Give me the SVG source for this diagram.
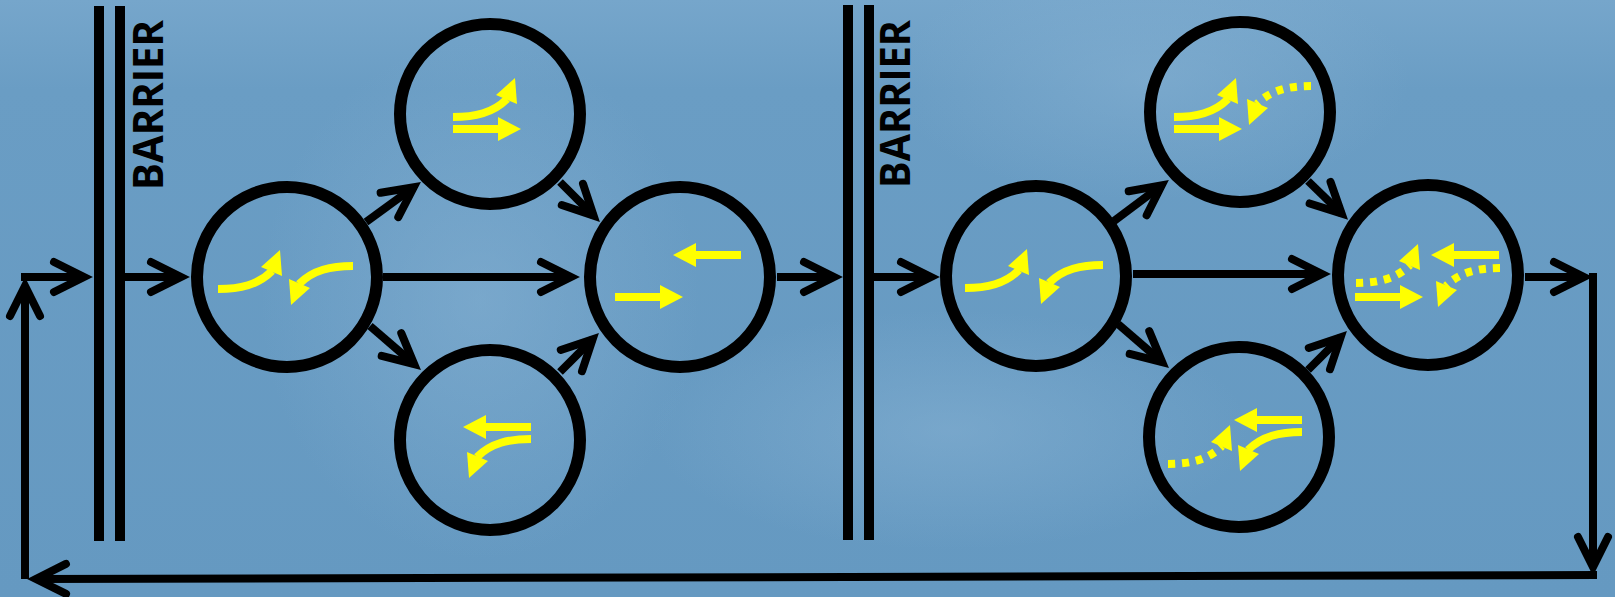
<svg xmlns="http://www.w3.org/2000/svg" width="1615" height="597" viewBox="0 0 1615 597">
<defs>
<linearGradient id="bg" x1="0" y1="0" x2="0" y2="1">
<stop offset="0" stop-color="#76A6CB"/>
<stop offset="0.15" stop-color="#6A9DC4"/>
<stop offset="1" stop-color="#6599C1"/>
</linearGradient>
<radialGradient id="glow" cx="0.5" cy="0.5" r="0.5">
<stop offset="0" stop-color="#8DB6D6" stop-opacity="0.45"/>
<stop offset="1" stop-color="#8DB6D6" stop-opacity="0"/>
</radialGradient>
<marker id="ah" markerUnits="userSpaceOnUse" markerWidth="50" markerHeight="50" viewBox="-40 -25 50 50" refX="0" refY="0" orient="auto" overflow="visible">
<path d="M-30,-15 L0,0 L-30,15" fill="none" stroke="#000" stroke-width="8" stroke-linecap="round" stroke-linejoin="miter" stroke-miterlimit="10"/>
</marker>
<g id="sa">
<rect x="0" y="-4" width="46" height="8"/>
<polygon points="45,-12 68,0 45,12"/>
</g>
<g id="ca">
<path d="M0,0 C22,0 40,-4 54,-18" fill="none" stroke="#FFFF00" stroke-width="8"/>
<polygon points="62,-39 43,-22 64,-13"/>
</g>
<g id="cd">
<path d="M0,0 C22,0 40,-4 54,-18" fill="none" stroke="#FFFF00" stroke-width="8" stroke-dasharray="7 7"/>
<polygon points="62,-39 43,-22 64,-13"/>
</g>
</defs>
<style>
.node circle { fill: none; stroke: #000; stroke-width: 12; }
.conn path { fill: none; stroke: #000; stroke-width: 8; }
.arr { marker-end: url(#ah); }
.bar { fill: #000; }
.lbl { font-family: "Open Sans", "Liberation Sans", sans-serif; font-weight: bold; font-size: 42px; fill: #000; }
.y { fill: #FFFF00; }
</style>
<rect width="1615" height="597" fill="url(#bg)"/>
<ellipse cx="1150" cy="80" rx="260" ry="120" fill="url(#glow)"/>
<ellipse cx="480" cy="300" rx="220" ry="260" fill="url(#glow)"/>
<ellipse cx="950" cy="430" rx="300" ry="120" fill="url(#glow)"/>

<g id="barrier1">
<rect class="bar" x="94" y="6" width="10" height="535"/>
<rect class="bar" x="115" y="6" width="10" height="535"/>
<text class="lbl" transform="translate(163,190) rotate(-90)" textLength="170" lengthAdjust="spacingAndGlyphs">BARRIER</text>
</g>
<g id="barrier2">
<rect class="bar" x="843" y="5" width="10" height="535"/>
<rect class="bar" x="864" y="5" width="10" height="535"/>
<text class="lbl" transform="translate(910,188) rotate(-90)" textLength="168" lengthAdjust="spacingAndGlyphs">BARRIER</text>
</g>

<g id="connectors" class="conn">
<path class="arr" d="M125,277 H181"/>
<path class="arr" d="M383,277 H571"/>
<path class="arr" d="M366,222 L413.7,187.3"/>
<path class="arr" d="M370,326 L414.2,364.1"/>
<path class="arr" d="M560,182 L593.6,215.6"/>
<path class="arr" d="M560,372 L592.6,339.4"/>
<path class="arr" d="M777,277 H834"/>
<path class="arr" d="M874,277 H931"/>
<path class="arr" d="M1133,274 H1322"/>
<path class="arr" d="M1114,221 L1161.7,185.3"/>
<path class="arr" d="M1118,324 L1162.2,362.1"/>
<path class="arr" d="M1308,181 L1341.6,213.6"/>
<path class="arr" d="M1308,370 L1340.6,337.4"/>
<path class="arr" d="M1525,277 H1584"/>
<path class="arr" d="M1593,273 V567"/>
<path class="arr" d="M1597,575 L36,579"/>
<path class="arr" d="M25,579 V286"/>
<path class="arr" d="M21,277 H84"/>
</g>

<g id="nodeA" class="node">
<circle cx="287" cy="277" r="90"/>
<use href="#ca" class="y" transform="translate(218,289)"/>
<use href="#ca" class="y" transform="translate(353,266) rotate(180)"/>
</g>
<g id="nodeB" class="node">
<circle cx="490" cy="114" r="90"/>
<use href="#ca" class="y" transform="translate(453,117)"/>
<use href="#sa" class="y" transform="translate(453,129)"/>
</g>
<g id="nodeC" class="node">
<circle cx="490" cy="440" r="90"/>
<use href="#sa" class="y" transform="translate(531,427) rotate(180)"/>
<use href="#ca" class="y" transform="translate(531,439) rotate(180)"/>
</g>
<g id="nodeD" class="node">
<circle cx="680" cy="277" r="90"/>
<use href="#sa" class="y" transform="translate(741,255) rotate(180)"/>
<use href="#sa" class="y" transform="translate(615,297)"/>
</g>
<g id="nodeE" class="node">
<circle cx="1036" cy="276" r="90"/>
<use href="#ca" class="y" transform="translate(965,288)"/>
<use href="#ca" class="y" transform="translate(1103,265) rotate(180)"/>
</g>
<g id="nodeF" class="node">
<circle cx="1240" cy="112" r="90"/>
<use href="#ca" class="y" transform="translate(1174,117)"/>
<use href="#sa" class="y" transform="translate(1174,129)"/>
<use href="#cd" class="y" transform="translate(1311,86) rotate(180)"/>
</g>
<g id="nodeG" class="node">
<circle cx="1239" cy="437" r="90"/>
<use href="#sa" class="y" transform="translate(1302,420) rotate(180)"/>
<use href="#ca" class="y" transform="translate(1302,432) rotate(180)"/>
<use href="#cd" class="y" transform="translate(1168,464)"/>
</g>
<g id="nodeH" class="node">
<circle cx="1428" cy="275" r="90"/>
<use href="#sa" class="y" transform="translate(1499,255) rotate(180)"/>
<use href="#sa" class="y" transform="translate(1355,297)"/>
<use href="#cd" class="y" transform="translate(1356,283)"/>
<use href="#cd" class="y" transform="translate(1500,268) rotate(180)"/>
</g>
</svg>
